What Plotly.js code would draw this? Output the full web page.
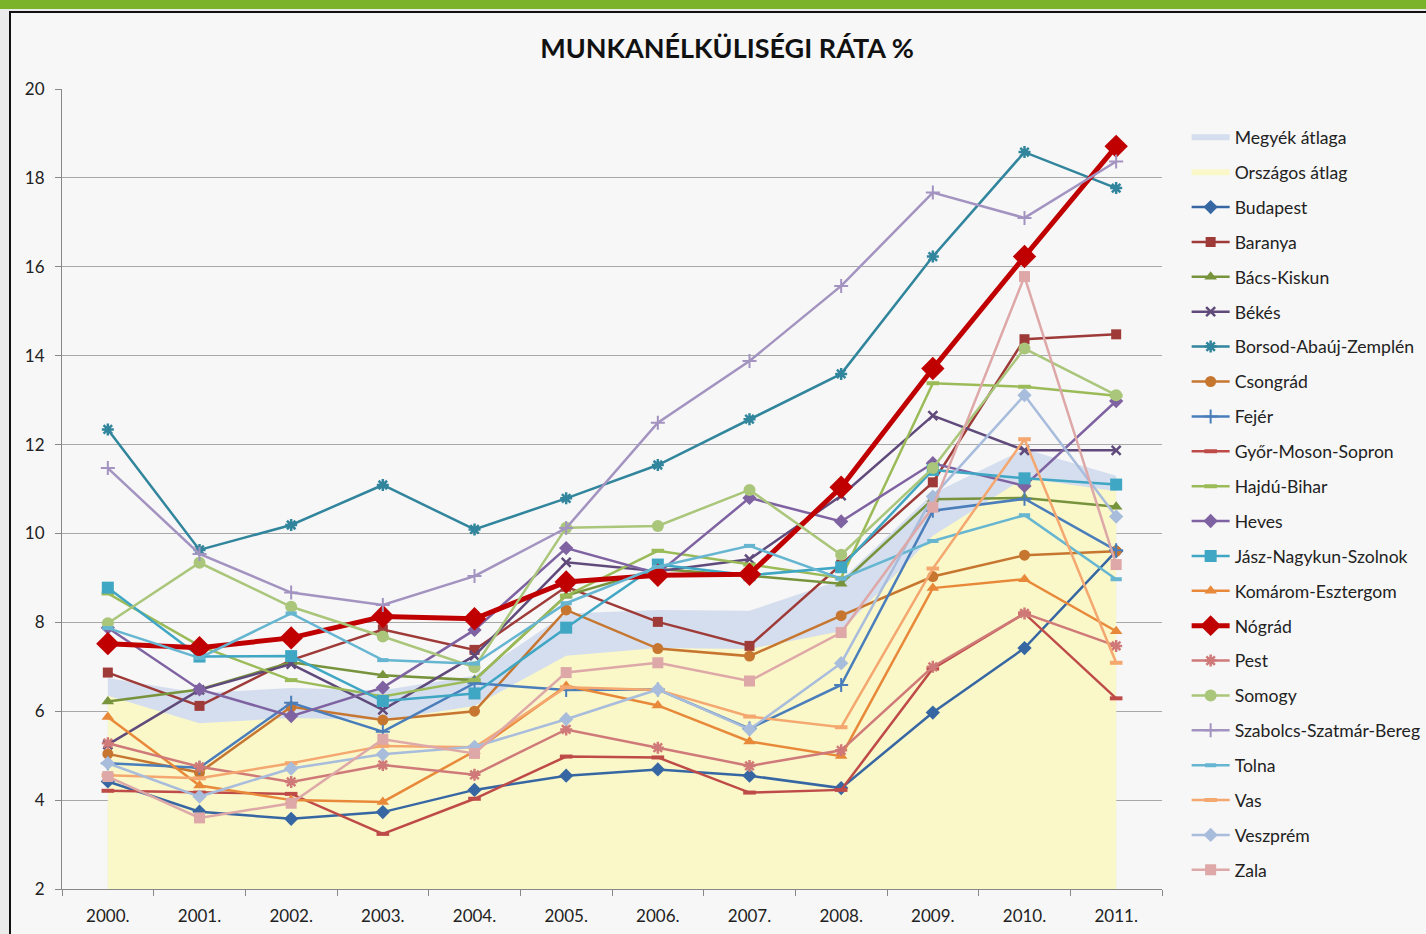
<!DOCTYPE html>
<html>
<head>
<meta charset="utf-8">
<script src="https://cdn.plot.ly/plotly-3.0.1.min.js"></script>
<style>
  html, body { margin:0; padding:0; }
  body { width:1426px; height:934px; overflow:hidden; position:relative; background:#EBEBEB; }
  #bar { position:absolute; left:0; top:0; width:1426px; height:9px; background:#7BB42A; }
  #frame { position:absolute; left:9px; top:11px; width:1417px; height:923px; border-left:2px solid #111; border-top:2px solid #111; background:#F7F7F7; }
  #chart { position:absolute; left:11px; top:13px; width:1415px; height:921px; }
</style>
</head>
<body>
<div id="bar"></div>
<div id="frame"></div>
<div id="chart"></div>
<script>
const years = ['2000.', '2001.', '2002.', '2003.', '2004.', '2005.', '2006.', '2007.', '2008.', '2009.', '2010.', '2011.'];

const megyekAtlaga  = [6.75, 6.41, 6.52, 6.47, 6.8, 8.2, 8.28, 8.26, 8.95, 10.9, 11.9, 11.3];
const orszagosAtlag = [6.35, 5.73, 5.85, 5.8, 6.12, 7.25, 7.42, 7.4, 7.8, 9.95, 11.25, 10.95];

const budapest   = [4.42, 3.74, 3.58, 3.73, 4.23, 4.55, 4.69, 4.55, 4.27, 5.97, 7.42, 9.6];
const baranya    = [6.87, 6.12, 7.15, 7.84, 7.38, 8.8, 8.01, 7.47, 9.3, 11.15, 14.37, 14.48];
const bacsKiskun = [6.22, 6.49, 7.1, 6.81, 6.7, 8.6, 9.2, 9.05, 8.87, 10.77, 10.8, 10.6];
const bekes      = [5.25, 6.48, 7.06, 6.03, 7.25, 9.35, 9.15, 9.42, 10.85, 12.65, 11.87, 11.87];
const borsod     = [12.34, 9.63, 10.19, 11.09, 10.09, 10.79, 11.54, 12.57, 13.59, 16.23, 18.58, 17.77];
const csongrad   = [5.04, 4.62, 6.1, 5.8, 6.0, 8.28, 7.41, 7.24, 8.15, 9.03, 9.51, 9.6];
const fejer      = [4.83, 4.73, 6.19, 5.54, 6.63, 6.48, 6.49, 5.61, 6.59, 10.51, 10.78, 9.62];
const gyor       = [4.21, 4.17, 4.14, 3.24, 4.03, 4.98, 4.96, 4.17, 4.23, 6.96, 8.2, 6.29];
const hajdu      = [8.65, 7.47, 6.7, 6.33, 6.7, 8.6, 9.61, 9.3, 9.0, 13.38, 13.3, 13.1];
const heves      = [7.88, 6.49, 5.89, 6.53, 7.83, 9.67, 9.1, 10.8, 10.27, 11.58, 11.07, 12.98];
const jasz       = [8.78, 7.23, 7.24, 6.23, 6.4, 7.88, 9.3, 9.06, 9.24, 11.43, 11.24, 11.1];
const komarom    = [5.87, 4.33, 4.0, 3.96, 5.1, 6.57, 6.13, 5.32, 4.99, 8.77, 8.97, 7.8];
const nograd     = [7.52, 7.43, 7.65, 8.13, 8.08, 8.91, 9.06, 9.08, 11.04, 13.71, 16.23, 18.71];
const pest       = [5.28, 4.75, 4.41, 4.79, 4.57, 5.59, 5.18, 4.77, 5.12, 7.0, 8.2, 7.47];
const somogy     = [7.98, 9.34, 8.35, 7.68, 6.99, 10.13, 10.17, 10.98, 9.52, 11.47, 14.16, 13.11];
const szabolcs   = [11.47, 9.54, 8.67, 8.39, 9.04, 10.12, 12.49, 13.88, 15.57, 17.67, 17.1, 18.37];
const tolna      = [7.87, 7.2, 8.2, 7.15, 7.07, 8.43, 9.25, 9.72, 8.98, 9.83, 10.41, 8.97];
const vas        = [4.56, 4.49, 4.83, 5.22, 5.19, 6.54, 6.48, 5.88, 5.64, 9.21, 12.12, 7.09];
const veszprem   = [4.83, 4.08, 4.71, 5.03, 5.2, 5.82, 6.49, 5.59, 7.08, 10.83, 13.11, 10.38];
const zala       = [4.53, 3.6, 3.93, 5.37, 5.05, 6.87, 7.09, 6.68, 7.77, 10.59, 15.78, 9.3];

const seriesNames = ['Budapest', 'Baranya', 'Bács-Kiskun', 'Békés', 'Borsod-Abaúj-Zemplén', 'Csongrád', 'Fejér',
  'Győr-Moson-Sopron', 'Hajdú-Bihar', 'Heves', 'Jász-Nagykun-Szolnok', 'Komárom-Esztergom', 'Nógrád', 'Pest',
  'Somogy', 'Szabolcs-Szatmár-Bereg', 'Tolna', 'Vas', 'Veszprém', 'Zala'];
const seriesValues = [budapest, baranya, bacsKiskun, bekes, borsod, csongrad, fejer, gyor, hajdu, heves, jasz,
  komarom, nograd, pest, somogy, szabolcs, tolna, vas, veszprem, zala];

// styles: [color, symbol, size, lineWidth, markerLineWidth]
const styles = [
  ['#3767A3', 'diamond', 11, 2.5, 0],
  ['#9E3B39', 'square', 10, 2.5, 0],
  ['#77933C', 'triangle-up', 11, 2.5, 0],
  ['#604A7B', 'x-thin', 9, 2.5, 2.5],
  ['#31859C', 'asterisk', 10, 2.5, 2.5],
  ['#C77630', 'circle', 11, 2.5, 0],
  ['#4A7EBB', 'cross-thin', 10, 2.5, 2],
  ['#BE4B48', 'line-ew', 9, 2.5, 4],
  ['#9BBB59', 'line-ew', 9, 2.5, 4],
  ['#7F62A1', 'diamond', 11, 2.5, 0],
  ['#3FA6C3', 'square', 12, 2.5, 0],
  ['#E8893A', 'triangle-up', 11, 2.5, 0],
  ['#C00000', 'diamond', 18, 5, 0],
  ['#CF7A78', 'asterisk', 10, 2.5, 2.5],
  ['#AAC67A', 'circle', 12, 2.5, 0],
  ['#A393C0', 'cross-thin', 10, 2.5, 2],
  ['#67B6D1', 'line-ew', 8, 2.5, 4],
  ['#F4A76E', 'line-ew', 9, 2.5, 4],
  ['#A8BCDC', 'diamond', 11, 2.5, 0],
  ['#DDA8A7', 'square', 11, 2.5, 0]
];

const traces = [
  { x: years, y: megyekAtlaga, name: 'Megyék átlaga', type: 'scatter', mode: 'none', fill: 'tozeroy',
    fillcolor: '#D4DEEE', legendgroup: 'g00' },
  { x: years, y: orszagosAtlag, name: 'Országos átlag', type: 'scatter', mode: 'none', fill: 'tozeroy',
    fillcolor: '#FAF7C9', legendgroup: 'g01' }
];
seriesNames.forEach((n, i) => {
  const s = styles[i];
  const marker = { symbol: s[1], size: s[2], color: s[0] };
  if (s[4] > 0) marker.line = { color: s[0], width: s[4] };
  traces.push({
    x: years, y: seriesValues[i], name: n, type: 'scatter', mode: 'lines+markers',
    line: { color: s[0], width: s[3] }, marker: marker, legendgroup: 'g' + String(i + 2).padStart(2, '0')
  });
});

const layout = {
  width: 1415, height: 921,
  margin: { l: 51, r: 264, t: 76, b: 45, autoexpand: false },
  paper_bgcolor: '#F7F7F7', plot_bgcolor: '#F7F7F7',
  font: { family: 'Lato, "Open Sans", sans-serif', size: 17, color: '#222' },
  title: { text: '<b>MUNKANÉLKÜLISÉGI RÁTA %</b>', font: { size: 27, color: '#111', family: 'Lato, sans-serif' },
    xref: 'container', yref: 'container', x: 0.506, xanchor: 'center', y: 0.961, yanchor: 'middle' },
  xaxis: { type: 'category', range: [-0.5, 11.5], showgrid: false, showline: true, linecolor: '#888', linewidth: 1,
    ticks: 'outside', ticklen: 6, tickcolor: '#888', tickson: 'boundaries', tickfont: { size: 17, color: '#222' },
    ticklabelstandoff: 12, fixedrange: true },
  yaxis: { range: [2, 20], dtick: 2, tick0: 2, showgrid: true, gridcolor: '#A8A8A8', gridwidth: 1,
    showline: true, linecolor: '#888', linewidth: 1, ticks: 'outside', ticklen: 6, tickcolor: '#888',
    tickfont: { size: 17, color: '#222' }, ticklabelstandoff: 7, zeroline: false, fixedrange: true },
  showlegend: true,
  legend: { x: 1.0224, xanchor: 'left', y: 0.962, yanchor: 'top', bgcolor: 'rgba(0,0,0,0)',
    font: { size: 17.6, color: '#222' }, tracegroupgap: 9, itemwidth: 38, traceorder: 'grouped' },
  hovermode: false
};

Plotly.newPlot('chart', traces, layout, { staticPlot: true, displayModeBar: false });
</script>
</body>
</html>
